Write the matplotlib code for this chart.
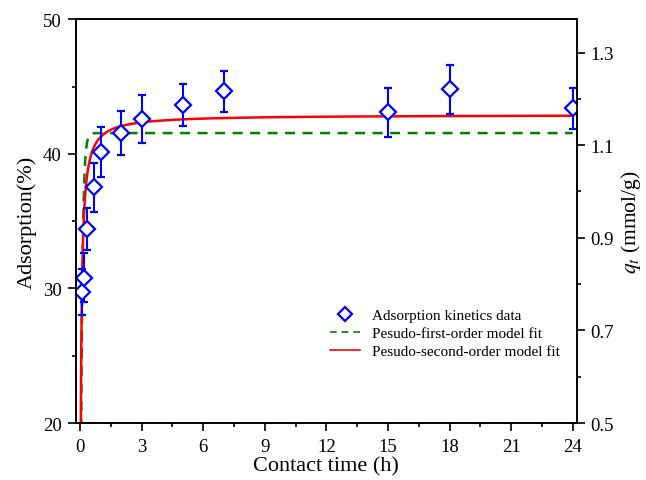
import numpy as np
import matplotlib
matplotlib.use("Agg")
import matplotlib.pyplot as plt
from matplotlib.ticker import MultipleLocator
from matplotlib.lines import Line2D

plt.rcParams['font.family'] = ['Liberation Serif', 'DejaVu Serif']
plt.rcParams['mathtext.fontset'] = 'stix'

time_h = [0.083, 0.167, 0.33, 0.67, 1, 2, 3, 5, 7, 15, 18, 24]
adsorption = [29.75, 30.8, 34.4, 37.5, 40.15, 41.55, 42.6, 43.65, 44.63, 43.07, 44.78, 43.37]
adsorption_err = [1.7, 1.8, 1.55, 1.8, 1.85, 1.65, 1.8, 1.55, 1.5, 1.8, 1.85, 1.55]

# fitted model parameters (in % units)
pfo_qe, pfo_k = 41.54, 12.0
pso_qe, pso_c = 42.9, 0.04

t = np.linspace(0, 24, 4000)
pfo = pfo_qe * (1 - np.exp(-pfo_k * t))
pso = pso_qe * t / (pso_c + t)

fig = plt.figure(figsize=(6.46, 4.81), dpi=100)
ax = fig.add_axes([0.1176, 0.1185, 0.7754, 0.8395])

ax.errorbar(time_h, adsorption, yerr=adsorption_err, fmt='D', color='#0000FF',
            mfc='white', mec='#0000FF', ms=8.5, mew=1.6, elinewidth=1.5,
            capsize=3, capthick=1.5, zorder=3)
ax.plot(t, pfo, '--', color='#008000', lw=1.8, dashes=(4, 3), zorder=2)
ax.plot(t, pso, '-', color='#FF0000', lw=1.8, zorder=2)

ax.set_xlim(-0.2, 24.2)
ax.set_ylim(20, 50)
ax.xaxis.set_major_locator(MultipleLocator(3))
ax.xaxis.set_minor_locator(MultipleLocator(1.5))
ax.yaxis.set_major_locator(MultipleLocator(10))
ax.yaxis.set_minor_locator(MultipleLocator(5))
ax.tick_params(which='major', direction='out', length=5.5, width=1.2, labelsize=13.5, pad=5)
ax.tick_params(which='minor', direction='out', length=3, width=1.2)
ax.set_xlabel('Contact time (h)', fontsize=16, labelpad=1)
ax.set_ylabel('Adsorption(%)', fontsize=16, labelpad=4)
for s in ax.spines.values():
    s.set_linewidth(1.2)

ax2 = ax.twinx()
ax2.set_ylim(0.5, 1.372)
ax2.yaxis.set_minor_locator(MultipleLocator(0.1))
ax2.set_yticks([0.5, 0.7, 0.9, 1.1, 1.3])
ax2.set_yticklabels(['0.5', '0.7', '0.9', '1.1', '1.3'])
ax2.tick_params(which='major', direction='out', length=5.5, width=1.2, labelsize=13.5, pad=4)
ax2.tick_params(which='minor', direction='out', length=3, width=1.2)
ax2.set_ylabel(r'$q_t$ (mmol/g)', fontsize=15.5, labelpad=4)
for s in ax2.spines.values():
    s.set_linewidth(1.2)

handles = [
    Line2D([], [], ls='none', marker='D', ms=7, mfc='white', mec='#0000FF', mew=1.6),
    Line2D([], [], ls='--', color='#008000', lw=1.2, dashes=(4, 3)),
    Line2D([], [], ls='-', color='#FF0000', lw=1.2),
]
labels = ['Adsorption kinetics data', 'Pesudo-first-order model fit',
          'Pesudo-second-order model fit']
ax.legend(handles, labels, loc='center left', bbox_to_anchor=(0.479, 0.222),
          frameon=False, fontsize=11, handlelength=2.0, handletextpad=0.8,
          labelspacing=0.3, borderpad=0.4)

fig.savefig('out.png', dpi=100)
